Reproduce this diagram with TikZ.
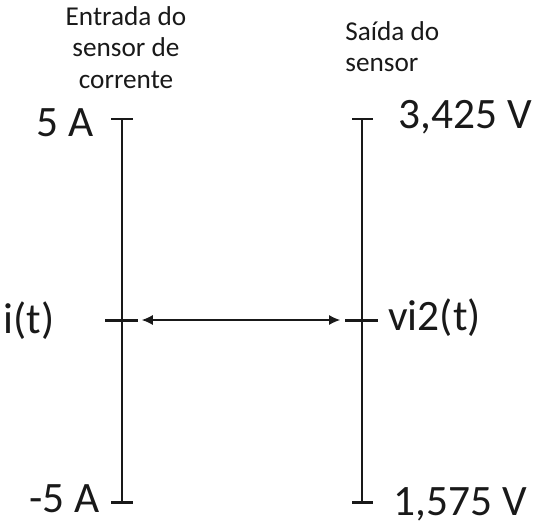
\documentclass[tikz,border=0pt]{standalone}
\usepackage{fontspec}
\setmainfont{Carlito}
\usepackage{tikz}
\usetikzlibrary{arrows.meta}

\tikzset{
  eixo/.style={line width=1.7pt, black!90},
  marca/.style={line width=1.7pt, black!90},
  rotulo/.style={font=\fontsize{24.7}{28}\selectfont, text=black!90, inner sep=0pt},
  titulo/.style={font=\fontsize{15.5}{18}\selectfont, text=black!90, inner sep=0pt, align=center}
}

\begin{document}
\begin{tikzpicture}[x=0.02cm, y=-0.02cm]
  \useasboundingbox (0,0) rectangle (541,528);

  % Pontos dos eixos
  \coordinate (inTop) at (122,119);
  \coordinate (inMid) at (122,320);
  \coordinate (inBot) at (122,502);
  \coordinate (outTop) at (362,119);
  \coordinate (outMid) at (362,320);
  \coordinate (outBot) at (362,502);

  % Eixo de entrada
  \draw[eixo] (inTop) -- (inBot);
  \draw[marca] ([shift={(-11,0)}]inTop) -- ([shift={(11,0)}]inTop);
  \draw[marca] ([shift={(-17,0)}]inMid) -- ([shift={(16,0)}]inMid);
  \draw[marca] ([shift={(-11,0)}]inBot) -- ([shift={(11,0)}]inBot);

  % Eixo de saida
  \draw[eixo] (outTop) -- (outBot);
  \draw[marca] ([shift={(-10,0)}]outTop) -- ([shift={(11,0)}]outTop);
  \draw[marca] ([shift={(-17,0)}]outMid) -- ([shift={(16,0)}]outMid);
  \draw[marca] ([shift={(-10,0)}]outBot) -- ([shift={(11,0)}]outBot);

  % Seta entre os eixos
  \draw[{Latex[length=2.2mm,width=2mm]}-{Latex[length=2.2mm,width=2mm]}, line width=0.6pt, black!90,
        shorten <=11.3pt, shorten >=12.5pt] (inMid) -- (outMid);

  % Titulos
  \node[titulo, anchor=north] (tEntrada) at (126,6) {Entrada do\\sensor de\\corrente};
  \node[titulo, anchor=north west, align=left] (tSaida) at (345,21) {Saída do\\sensor};

  % Rotulos
  \node[rotulo, anchor=base east] (lCincoA) at (94,136) {5 A};
  \node[rotulo, anchor=base east] (lIt) at (55,333) {i(t)};
  \node[rotulo, anchor=base east] (lMenosCincoA) at (100,512) {-5 A};
  \node[rotulo, anchor=base west] (lMax) at (398,128) {3,425 V};
  \node[rotulo, anchor=base west] (lVi) at (388,330) {vi2(t)};
  \node[rotulo, anchor=base west] (lMin) at (393,515) {1,575 V};
\end{tikzpicture}
\end{document}
